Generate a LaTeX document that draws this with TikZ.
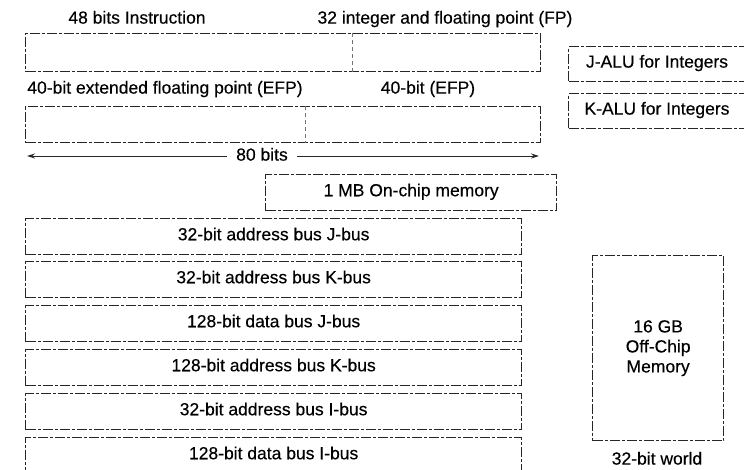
\documentclass[tikz,border=0pt]{standalone}
\usepackage{fontspec}
\setmainfont{Liberation Sans}[UprightFeatures={FakeBold=0.3}]
\usetikzlibrary{arrows.meta}
\begin{document}
\begin{tikzpicture}[x=1pt,y=-1pt,
  every node/.style={font=\fontsize{17.5}{20}\selectfont, inner sep=0pt, text=black},
  scanbox/.style={draw=black!85, line width=1.3pt, dash pattern=on 10pt off 2pt on 3pt off 2pt, rectangle, anchor=north west},
  lbl/.style={text height=0.72em, text depth=0pt},
  divider/.style={draw=black!55, line width=1pt, dash pattern=on 4pt off 3pt},
  dimarrow/.style={draw=black!85, line width=1pt, -{Stealth[length=8pt,width=5pt]}}
]
\useasboundingbox (0,0) rectangle (744,469);
\clip (0,0) rectangle (744,469);

% register boxes
\node[scanbox, minimum width=515pt, minimum height=38pt] (instr) at (25,33) {};
\coordinate (d1) at (352,33);
\draw[divider] (d1) -- (d1 |- instr.south);
\node[lbl] (t48) at (137,20) {48 bits Instruction};
\node[lbl] (t32) at (445,20) {32 integer and floating point (FP)};

\node[scanbox, minimum width=515pt, minimum height=36pt] (efp) at (25,106) {};
\coordinate (d2) at (305,106);
\draw[divider] (d2) -- (d2 |- efp.south);
\node[lbl] (t40a) at (165,90) {40-bit extended floating point (EFP)};
\node[lbl] (t40b) at (428,90) {40-bit (EFP)};

% 80 bits dimension
\node[lbl, inner xsep=9pt] (bits) at (262,157) {80 bits};
\coordinate (aL) at (27,156);
\coordinate (aR) at (539,156);
\draw[dimarrow] (bits.west |- aL) -- (aL);
\draw[dimarrow] (bits.east |- aR) -- (aR);

% ALU boxes
\node[scanbox, minimum width=200pt, minimum height=35pt] (jalu) at (568,46) {};
\node[lbl] (tj) at (657,64) {J-ALU for Integers};
\node[scanbox, minimum width=200pt, minimum height=35pt] (kalu) at (568,93) {};
\node[lbl] (tk) at (657,111) {K-ALU for Integers};

% on-chip memory
\node[scanbox, minimum width=291pt, minimum height=36pt, text height=0.72em, text depth=0pt] (mem1) at (265,174) {1 MB On-chip memory};

% buses
\tikzset{bus/.style={scanbox, minimum width=496pt, minimum height=36pt, text height=0.72em, text depth=0pt}}
\node[bus] (b1) at (25,218) {32-bit address bus J-bus};
\node[bus] (b2) at (25,261) {32-bit address bus K-bus};
\node[bus] (b3) at (25,305) {128-bit data bus J-bus};
\node[bus] (b4) at (25,349) {128-bit address bus K-bus};
\node[bus] (b5) at (25,393) {32-bit address bus I-bus};
\node[bus, minimum height=50pt, text depth=14pt] (b6) at (25,437) {128-bit data bus I-bus};

% off-chip memory
\node[scanbox, minimum width=131pt, minimum height=185pt, align=center] (mem16) at (592,255) {16 GB\\Off-Chip\\Memory};
\node[lbl] (world) at (657,461) {32-bit world};
\end{tikzpicture}
\end{document}
